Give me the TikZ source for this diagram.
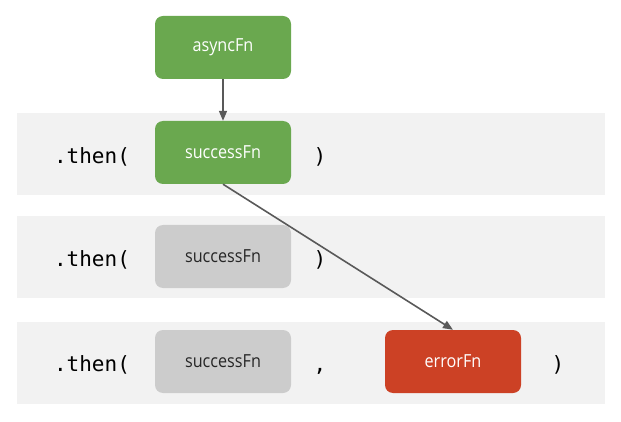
\documentclass[tikz,border=0pt]{standalone}
\usepackage{fontspec}
\setmainfont{Open Sans}
\newfontfamily\boxfont[FakeStretch=0.9]{Open Sans}
\setmonofont{DejaVu Sans Mono}
\usetikzlibrary{arrows.meta}
\definecolor{fgreen}{HTML}{6AA84F}
\definecolor{fgray}{HTML}{CCCCCC}
\definecolor{fred}{HTML}{CC4125}
\definecolor{band}{HTML}{F2F2F2}
\definecolor{arr}{HTML}{595959}
\begin{document}
\begin{tikzpicture}[x=1pt,y=-1pt,
  fnbox/.style={rounded corners=8pt,minimum width=136pt,minimum height=63pt,inner sep=0pt,font=\boxfont\fontsize{18}{20}\selectfont},
  greenbox/.style={fnbox,fill=fgreen,text=white},
  graybox/.style={fnbox,fill=fgray,text=black!85},
  redbox/.style={fnbox,fill=fred,text=white},
  code/.style={font=\ttfamily\fontsize{21}{24}\selectfont,inner sep=0pt,anchor=base},
  conn/.style={draw=arr,line width=1.6pt,-{Triangle[length=10pt,width=8pt]}}]
\useasboundingbox (0,0) rectangle (621,422);
\fill[band] (17,113) rectangle (605,195);
\fill[band] (17,216) rectangle (605,298);
\fill[band] (17,322) rectangle (605,404);
\node[greenbox] (async) at (223,47.5) {asyncFn};
\node[greenbox] (s1) at (223,152.5) {successFn};
\node[graybox] (s2) at (223,256.5) {successFn};
\node[graybox] (s3) at (223,361.5) {successFn};
\node[redbox] (err) at (453,361.5) {errorFn};
\node[code] (t1) at (92,164) {.then(};
\node[code] (c1) at (320,164) {)};
\node[code] (t2) at (92,266) {.then(};
\node[code] (c2) at (320,266) {)};
\node[code] (t3) at (92,371) {.then(};
\node[code] (cm) at (320,371) {,};
\node[code] (c3) at (558,371) {)};
\draw[conn] (async.south) -- (s1.north);
\draw[conn] (s1.south) -- (err.north);
\end{tikzpicture}
\end{document}
